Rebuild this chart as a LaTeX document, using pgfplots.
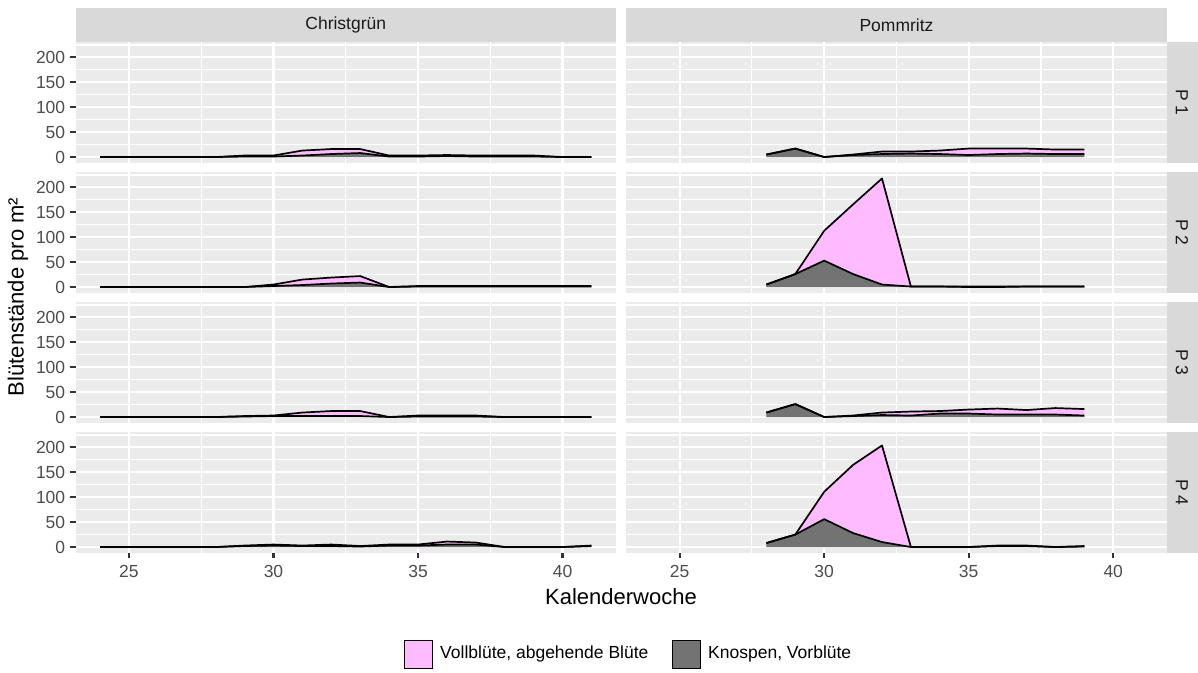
\documentclass[border=0pt]{standalone}
\usepackage{pgfplots}
\pgfplotsset{compat=1.18}
\usepackage{pgfplotstable}
\usepackage{fontspec}
\setmainfont{Liberation Sans}
\definecolor{panelbg}{HTML}{EBEBEB}
\definecolor{stripbg}{HTML}{D9D9D9}
\definecolor{tickgray}{HTML}{4D4D4D}
\definecolor{tickmark}{HTML}{333333}
\definecolor{striptext}{HTML}{1A1A1A}
\definecolor{vollpink}{HTML}{FFBBFF}
\definecolor{knospgray}{HTML}{737373}

% Christgruen
\pgfplotstableread{
w K V
24 0 0
25 0 0
26 0 0
27 0 0
28 0 0
29 1 2
30 1 2
31 3 10
32 6 10
33 8 8
34 1 2
35 1 2
36 2 2
37 1 2
38 1 2
39 1 2
40 0 0
41 0 0
}\cgA
\pgfplotstableread{
w K V
24 0 0
25 0 0
26 0 0
27 0 0
28 0 0
29 0 0
30 2 3
31 4 11
32 7 12
33 9 13
34 0 0
35 1 1
36 1 1
37 1 1
38 1 1
39 1 1
40 1 1
41 1 1
}\cgB
\pgfplotstableread{
w K V
24 0 0
25 0 0
26 0 0
27 0 0
28 0 0
29 1 1
30 2 1
31 2 7
32 2 10
33 2 10
34 0 0
35 1 2
36 1 2
37 1 2
38 0 0
39 0 0
40 0 0
41 0 0
}\cgC
\pgfplotstableread{
w K V
24 0 0
25 0 0
26 0 0
27 0 0
28 0 0
29 2 1
30 3 2
31 2 1
32 2 3
33 1 1
34 3 2
35 3 2
36 5 6
37 5 4
38 0 0
39 0 0
40 0 0
41 2 1
}\cgD
% Pommritz
\pgfplotstableread{
w K V
28 5 0
29 17 0
30 0 0
31 4 1
32 6 5
33 7 4
34 6 7
35 4 13
36 6 11
37 7 10
38 6 9
39 6 9
}\pmA
\pgfplotstableread{
w K V
28 5 0
29 26 0
30 53 60
31 26 140
32 5 213
33 1 0
34 1 0
35 0 1
36 0 1
37 1 0
38 1 0
39 1 0
}\pmB
\pgfplotstableread{
w K V
28 9 0
29 26 0
30 0 0
31 2 1
32 4 5
33 3 8
34 7 5
35 7 8
36 5 12
37 5 9
38 5 13
39 3 13
}\pmC
\pgfplotstableread{
w K V
28 8 0
29 25 0
30 56 55
31 28 137
32 10 194
33 0 0
34 0 0
35 0 0
36 2 1
37 2 1
38 0 0
39 1 1
}\pmD

\newcommand{\fs}{\fontsize{17.5}{20}\selectfont}

\pgfplotsset{
  panel/.style={
    scale only axis, width=540.5pt, height=120.5pt, anchor=north west,
    xmin=23.15, xmax=41.85, ymin=-11, ymax=231,
    axis background/.style={fill=panelbg},
    axis line style={draw=none},
    xtick={25,30,35,40}, ytick={0,50,100,150,200},
    minor xtick={27.5,32.5,37.5}, minor ytick={25,75,125,175,225},
    grid=both,
    major grid style={white, line width=2.1pt},
    minor grid style={white, line width=1.05pt},
    minor tick length=0pt,
    tick align=outside,
    tick pos=left,
    major tick length=5.6pt,
    every tick/.append style={tickmark, line width=2.1pt},
    xticklabels={}, yticklabels={},
    xmajorticks=false, ymajorticks=false,
    tick label style={font=\fs, text=tickgray},
    /pgf/number format/assume math mode=true,
  },
  ylab/.style={ymajorticks=true, yticklabels={0,50,100,150,200},
    yticklabel style={inner sep=0pt, xshift=-4.5pt}},
  xlab/.style={xmajorticks=true, xticklabels={25,30,35,40},
    xticklabel style={inner sep=0pt, yshift=-7pt}},
}

\newcommand{\areas}[1]{%
  \addplot[fill=vollpink, draw=none] table[x=w, y expr=\thisrow{K}+\thisrow{V}] {#1} \closedcycle;
  \addplot[fill=knospgray, draw=none] table[x=w, y=K] {#1} \closedcycle;
  \addplot[black, line width=1.7pt, line join=round] table[x=w, y=K] {#1};
  \addplot[black, line width=1.7pt, line join=round] table[x=w, y expr=\thisrow{K}+\thisrow{V}] {#1};
}

\begin{document}
\begin{tikzpicture}
\useasboundingbox (0pt,0pt) rectangle (1198pt,-672pt);
\fill[white] (0pt,0pt) rectangle (1198pt,-672pt);

% Row 1
\begin{axis}[panel, ylab, at={(75.5pt,-42pt)}]
\areas{\cgA}
\end{axis}
\begin{axis}[panel, at={(626.2pt,-42pt)}]
\areas{\pmA}
\end{axis}
% Row 2
\begin{axis}[panel, ylab, at={(75.5pt,-172pt)}]
\areas{\cgB}
\end{axis}
\begin{axis}[panel, at={(626.2pt,-172pt)}]
\areas{\pmB}
\end{axis}
% Row 3
\begin{axis}[panel, ylab, at={(75.5pt,-302pt)}]
\areas{\cgC}
\end{axis}
\begin{axis}[panel, at={(626.2pt,-302pt)}]
\areas{\pmC}
\end{axis}
% Row 4
\begin{axis}[panel, ylab, xlab, at={(75.5pt,-432pt)}]
\areas{\cgD}
\end{axis}
\begin{axis}[panel, xlab, at={(626.2pt,-432pt)}]
\areas{\pmD}
\end{axis}

% top strips
\fill[stripbg] (75.5pt,-8pt) rectangle (616pt,-42pt);
\fill[stripbg] (626.2pt,-8pt) rectangle (1166.7pt,-42pt);
\node[text=striptext, font=\fs] at (345.75pt,-25pt) {Christgrün};
\node[text=striptext, font=\fs] at (896.45pt,-25pt) {Pommritz};

% right strips
\foreach \r/\lab in {0/P 1,1/P 2,2/P 3,3/P 4}{
  \fill[stripbg] (1166.7pt,{-42pt-130pt*\r}) rectangle (1198pt,{-162.5pt-130pt*\r});
  \node[text=striptext, font=\fs, rotate=-90] at (1182pt,{-102.25pt-130pt*\r}) {\lab};
}

% axis titles
\node[font=\fontsize{22}{26}\selectfont] at (621pt,-597pt) {Kalenderwoche};
\node[font=\fontsize{22}{26}\selectfont, rotate=90] at (18pt,-297pt) {Blütenstände pro m²};

% legend
\draw[black, line width=1pt, fill=vollpink] (404pt,-640pt) rectangle (432pt,-668pt);
\node[anchor=west, font=\fs, inner sep=0pt] at (440pt,-654pt) {Vollblüte, abgehende Blüte};
\draw[black, line width=1pt, fill=knospgray] (672pt,-640pt) rectangle (700pt,-668pt);
\node[anchor=west, font=\fs, inner sep=0pt] at (708pt,-654pt) {Knospen, Vorblüte};
\end{tikzpicture}
\end{document}
